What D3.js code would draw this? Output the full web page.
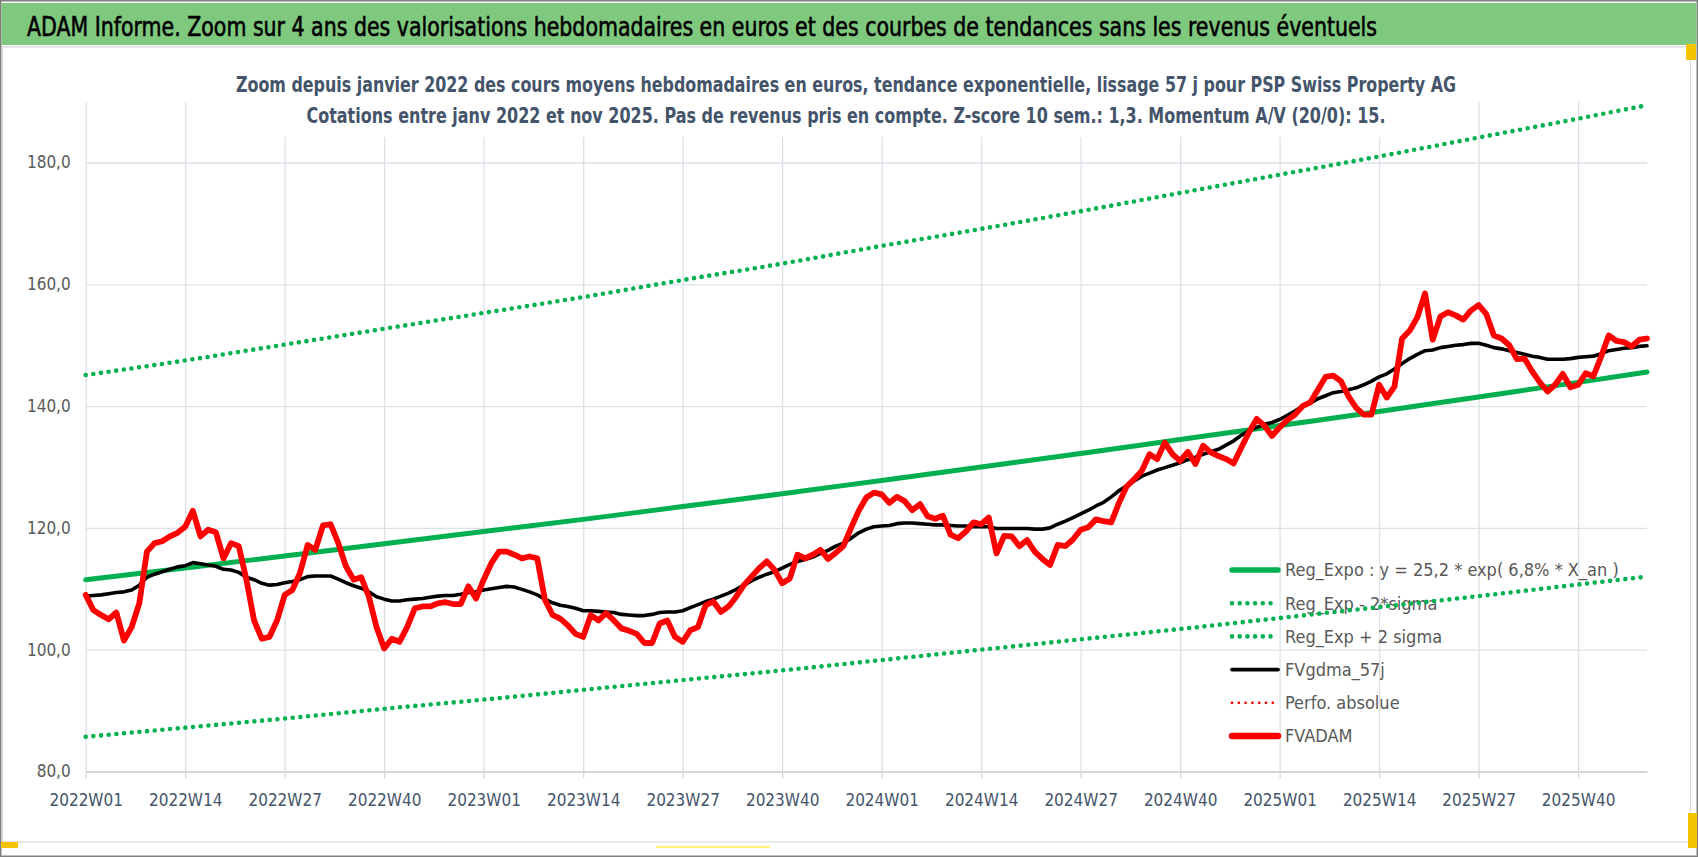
<!DOCTYPE html>
<html>
<head>
<meta charset="utf-8">
<script src="https://cdnjs.cloudflare.com/ajax/libs/d3/7.8.5/d3.min.js"></script>
<style>
body { margin: 0; background: #fff; }
svg { display: block; }
text { font-family: "Liberation Sans Narrow", "DejaVu Sans Condensed", "Roboto", sans-serif; }
</style>
</head>
<body>
<div id="container"></div>
<script>
// categories: ISO weeks, Jan 2022 -> Nov 2025
const years = [2022, 2023, 2024, 2025];
const weeksInYear = [52, 52, 52, 49];

const tickLabels = ["2022W01", "2022W14", "2022W27", "2022W40", "2023W01", "2023W14", "2023W27", "2023W40",
    "2024W01", "2024W14", "2024W27", "2024W40", "2025W01", "2025W14", "2025W27", "2025W40"];
const yTicks = [80, 100, 120, 140, 160, 180];

// FVADAM, weekly average price in euros
const fvadam = [
    109.0, 106.5, 105.7, 105.0, 106.1, 101.5, 103.7, 107.6, 116.1, 117.5, 117.8, 118.6, 119.2,
    120.2, 122.8, 118.6, 119.7, 119.3, 115.0, 117.5, 117.0, 111.5, 104.8, 101.8, 102.1, 104.8,
    109.0, 109.8, 112.6, 117.2, 116.4, 120.4, 120.6, 117.5, 113.7, 111.5, 111.9, 108.7, 103.7,
    100.2, 101.8, 101.3, 103.7, 106.8, 107.1, 107.1, 107.6, 107.8, 107.5, 107.5, 110.4, 108.4,
    111.5, 114.2, 116.1, 116.1, 115.6, 115.0, 115.3, 115.0, 108.2, 105.7, 105.1, 104.0, 102.6,
    102.1, 105.7, 104.8, 106.0, 104.8, 103.5, 103.1, 102.6, 101.1, 101.1, 104.3, 104.8, 102.1,
    101.3, 103.2, 103.7, 107.3, 107.9, 106.2, 107.1, 108.7, 110.6, 112.0, 113.4, 114.5, 113.1,
    110.9, 111.7, 115.6, 115.0, 115.6, 116.4, 114.9, 115.9, 117.0, 120.0, 122.8, 125.0, 125.8,
    125.5, 124.1, 125.1, 124.4, 122.9, 123.9, 121.9, 121.5, 122.0, 118.9, 118.3, 119.4, 120.9,
    120.6, 121.7, 115.8, 118.7, 118.6, 117.0, 118.0, 116.1, 114.9, 113.9, 117.2, 117.0, 118.1,
    119.7, 120.1, 121.4, 121.1, 120.9, 124.1, 126.8, 128.0, 129.4, 132.1, 131.3, 134.0, 132.1,
    131.0, 132.5, 130.5, 133.5, 132.4, 131.8, 131.3, 130.6, 133.2, 135.7, 137.9, 136.8, 135.1,
    136.5, 137.7, 138.6, 140.0, 140.6, 142.7, 144.8, 145.0, 144.1, 141.6, 139.7, 138.6, 138.6,
    143.5, 141.4, 143.2, 151.1, 152.4, 154.6, 158.5, 150.9, 154.7, 155.4, 154.9, 154.2, 155.7,
    156.6, 155.1, 151.6, 151.1, 150.0, 147.7, 147.8, 145.7, 143.9, 142.4, 143.5, 145.3, 143.1,
    143.5, 145.4, 144.9, 148.1, 151.6, 150.7, 150.5, 149.8, 150.9, 151.1
];

// FVgdma_57j, smoothed
const fvgdma = [
    108.8, 108.9, 109.0, 109.2, 109.4, 109.5, 109.8, 110.6, 111.9, 112.4, 112.8, 113.2, 113.6,
    113.8, 114.3, 114.1, 113.9, 113.7, 113.2, 113.1, 112.7, 111.9, 111.5, 110.9, 110.6, 110.7,
    111.0, 111.2, 111.5, 112.0, 112.1, 112.1, 112.1, 111.6, 111.0, 110.5, 110.1, 109.5, 108.7,
    108.3, 108.0, 108.0, 108.2, 108.3, 108.4, 108.6, 108.8, 108.9, 108.9, 109.1, 109.4, 109.5,
    109.8, 110.0, 110.2, 110.4, 110.3, 109.9, 109.5, 109.0, 108.3, 107.7, 107.3, 107.1, 106.8,
    106.4, 106.4, 106.3, 106.2, 106.1, 105.8, 105.7, 105.6, 105.6, 105.8, 106.1, 106.2, 106.2,
    106.4, 106.9, 107.4, 107.9, 108.3, 108.8, 109.3, 109.9, 110.6, 111.3, 111.9, 112.4, 112.8,
    113.4, 114.0, 114.5, 114.8, 115.2, 115.8, 116.3, 117.0, 117.5, 118.3, 119.2, 119.8, 120.2,
    120.3, 120.4, 120.7, 120.8, 120.8, 120.7, 120.6, 120.5, 120.5, 120.4, 120.3, 120.3, 120.2,
    120.2, 120.2, 119.9, 119.9, 119.9, 119.9, 119.9, 119.8, 119.8, 120.0, 120.6, 121.1, 121.7,
    122.3, 122.9, 123.6, 124.2, 125.1, 126.1, 126.9, 127.7, 128.5, 129.0, 129.5, 129.9, 130.3,
    130.7, 131.2, 131.6, 132.1, 132.5, 132.9, 133.6, 134.3, 135.2, 136.0, 136.5, 137.0, 137.3,
    137.8, 138.5, 139.2, 140.0, 140.5, 141.2, 141.7, 142.2, 142.4, 142.7, 143.0, 143.5, 144.1,
    144.8, 145.3, 146.1, 147.0, 147.8, 148.5, 149.1, 149.2, 149.6, 149.8, 150.0, 150.1, 150.3,
    150.3, 150.0, 149.6, 149.4, 149.1, 148.8, 148.5, 148.2, 148.0, 147.7, 147.7, 147.7, 147.8,
    148.0, 148.1, 148.2, 148.6, 149.1, 149.3, 149.5, 149.6, 149.8, 149.9
];

// exponential trend and +/- 2 sigma bands, read at quarter weeks
const trendWeeks = ["2022W01", "2022W14", "2022W27", "2022W40", "2023W01", "2023W14", "2023W27", "2023W40",
    "2024W01", "2024W14", "2024W27", "2024W40", "2025W01", "2025W14", "2025W27", "2025W40", "2025W49"];
const regExpo = [111.5, 113.4, 115.4, 117.4, 119.4, 121.4, 123.5, 125.6, 127.8,
    130.0, 132.2, 134.5, 136.8, 139.1, 141.5, 143.9, 145.6];
const regExpMinus = [85.7, 87.2, 88.7, 90.3, 91.8, 93.4, 95.0, 96.6, 98.3,
    100.0, 101.7, 103.4, 105.2, 107.0, 108.8, 110.7, 112.0];
const regExpPlus = [145.1, 147.5, 150.1, 152.7, 155.3, 157.9, 160.7, 163.4, 166.3,
    169.1, 172.0, 175.0, 178.0, 181.0, 184.1, 187.2, 189.4];

const legendLabels = ["Reg_Expo : y = 25,2 * exp( 6,8% * X_an )", "Reg_Exp - 2*sigma", "Reg_Exp + 2 sigma",
    "FVgdma_57j", "Perfo. absolue", "FVADAM"];

const title = "ADAM Informe. Zoom sur 4 ans des valorisations hebdomadaires en euros et des courbes de tendances sans les revenus éventuels";
const subtitle1 = "Zoom depuis janvier 2022 des cours moyens hebdomadaires en euros, tendance exponentielle, lissage 57 j pour PSP Swiss Property AG";
const subtitle2 = "Cotations entre janv 2022 et nov 2025. Pas de revenus pris en compte. Z-score 10 sem.: 1,3. Momentum A/V (20/0): 15.";

const weeks = [];
years.forEach((yr, k) => {
    for (let w = 1; w <= weeksInYear[k]; w++) weeks.push(yr + "W" + String(w).padStart(2, "0"));
});

const W = 1698, H = 857;
const plotLeft = 85.7, plotRight = 1647, plotTop = 101.6, plotBottom = 771.5;
const green = "#00B050", red = "#FF0000";
const grid = "#DDE1E7";
const fontStack = '"Liberation Sans Narrow", "DejaVu Sans Condensed", "Roboto", sans-serif';
const dots = "0 7.7";

const svg = d3.select("#container").append("svg")
    .attr("width", W)
    .attr("height", H);

// frame, banner, chart area
svg.append("rect").attr("x", 0.75).attr("y", 0.75).attr("width", W - 1.5).attr("height", H - 1.5)
    .attr("fill", "#fff").attr("stroke", "#808080").attr("stroke-width", 1.5);
svg.append("rect").attr("x", 1.5).attr("y", 3).attr("width", W - 3).attr("height", 42)
    .attr("fill", "#7FC97F");
svg.append("rect").attr("x", 2.5).attr("y", 47).attr("width", 1688).attr("height", 795)
    .attr("fill", "#fff").attr("stroke", "#DADADA").attr("stroke-width", 1.2);

// small yellow selection marks
svg.append("rect").attr("x", 1).attr("y", 842).attr("width", 17).attr("height", 6).attr("fill", "#F5C400");
svg.append("rect").attr("x", 1686).attr("y", 44).attr("width", 10).attr("height", 16).attr("fill", "#F5C400");
svg.append("rect").attr("x", 1688).attr("y", 813).attr("width", 9).attr("height", 35).attr("fill", "#F5C400");
svg.append("rect").attr("x", 656).attr("y", 846).attr("width", 114).attr("height", 2).attr("fill", "#FFF176");

svg.append("text")
    .attr("x", 27).attr("y", 36)
    .attr("font-size", 27)
    .attr("fill", "#000")
    .attr("stroke", "#000").attr("stroke-width", 0.6)
    .attr("textLength", 1350)
    .attr("lengthAdjust", "spacingAndGlyphs")
    .text(title);

const xScale = d3.scalePoint().domain(weeks).range([plotLeft, plotRight]);
const yScale = d3.scaleLinear().domain([80, 190]).range([plotBottom, plotTop]);

// horizontal gridlines
svg.append("g")
    .attr("class", "grid")
    .attr("transform", `translate(${plotLeft},0)`)
    .call(d3.axisLeft(yScale).tickValues(yTicks.slice(1)).tickSize(-(plotRight - plotLeft)).tickFormat(""))
    .call(g => g.select(".domain").remove())
    .call(g => g.selectAll("line").attr("stroke", grid).attr("stroke-width", 1.3));

// vertical gridlines
svg.append("g")
    .attr("class", "grid")
    .attr("transform", `translate(0,${plotBottom})`)
    .call(d3.axisBottom(xScale).tickValues(tickLabels).tickSize(-(plotBottom - plotTop)).tickFormat(""))
    .call(g => g.select(".domain").remove())
    .call(g => g.selectAll("line").attr("stroke", grid).attr("stroke-width", 1.3));

// subtitle box hides the top of the gridlines
svg.append("rect").attr("x", 230).attr("y", 58).attr("width", 1232).attr("height", 79).attr("fill", "#fff");
svg.append("text")
    .attr("x", 846).attr("y", 92)
    .attr("text-anchor", "middle")
    .attr("font-size", 21).attr("font-weight", "bold")
    .attr("fill", "#44546A")
    .attr("textLength", 1220).attr("lengthAdjust", "spacingAndGlyphs")
    .text(subtitle1);
svg.append("text")
    .attr("x", 846).attr("y", 123)
    .attr("text-anchor", "middle")
    .attr("font-size", 21).attr("font-weight", "bold")
    .attr("fill", "#44546A")
    .attr("textLength", 1079).attr("lengthAdjust", "spacingAndGlyphs")
    .text(subtitle2);

// y labels
svg.append("g")
    .attr("id", "y-axis")
    .attr("transform", `translate(${plotLeft},0)`)
    .call(d3.axisLeft(yScale).tickValues(yTicks).tickSize(0).tickPadding(15)
        .tickFormat(d => d3.format(".1f")(d).replace(".", ",")))
    .call(g => g.select(".domain").remove())
    .call(g => g.selectAll("text").attr("font-size", 17).attr("fill", "#595959").style("font-family", fontStack));

// x axis
svg.append("g")
    .attr("id", "x-axis")
    .attr("transform", `translate(0,${plotBottom})`)
    .call(d3.axisBottom(xScale).tickValues(tickLabels).tickSize(7).tickPadding(15).tickSizeOuter(0))
    .call(g => g.select(".domain").attr("stroke", "#D6D6D6").attr("stroke-width", 2.2))
    .call(g => g.selectAll("line").attr("stroke", "#D6D6D6").attr("stroke-width", 1.3))
    .call(g => g.selectAll("text").attr("font-size", 17).attr("fill", "#44546A").style("font-family", fontStack));

// legend (no fill, lines go over it)
const legendStyles = [
    { color: green, width: 5.5, dash: null },
    { color: green, width: 4.6, dash: dots },
    { color: green, width: 4.6, dash: dots },
    { color: "#000", width: 3.8, dash: null },
    { color: red, width: 2.8, dash: "0 6.8" },
    { color: red, width: 6.5, dash: null }
];
const legend = svg.append("g").attr("class", "legend");
legendLabels.forEach((lab, i) => {
    const ly = 570 + i * 33.2;
    const st = legendStyles[i];
    legend.append("line")
        .attr("x1", 1232).attr("x2", 1278).attr("y1", ly).attr("y2", ly)
        .attr("stroke", st.color).attr("stroke-width", st.width)
        .attr("stroke-linecap", "round")
        .attr("stroke-dasharray", st.dash);
    legend.append("text")
        .attr("x", 1285).attr("y", ly).attr("dy", "0.35em")
        .attr("font-size", 18).attr("fill", "#595959")
        .text(lab);
});

// series
const trendLine = d3.line()
    .x((d, i) => xScale(trendWeeks[i]))
    .y(d => yScale(d))
    .curve(d3.curveMonotoneX);
const weekLine = d3.line()
    .x((d, i) => xScale(weeks[i]))
    .y(d => yScale(d));

svg.append("path").datum(regExpo).attr("d", trendLine)
    .attr("fill", "none").attr("stroke", green).attr("stroke-width", 5).attr("stroke-linecap", "round");
[regExpMinus, regExpPlus].forEach(s => {
    svg.append("path").datum(s).attr("d", trendLine)
        .attr("fill", "none").attr("stroke", green).attr("stroke-width", 4.6)
        .attr("stroke-linecap", "round").attr("stroke-dasharray", dots);
});
svg.append("path").datum(fvgdma).attr("d", weekLine)
    .attr("fill", "none").attr("stroke", "#000").attr("stroke-width", 3.6)
    .attr("stroke-linejoin", "round").attr("stroke-linecap", "round");
svg.append("path").datum(fvadam).attr("d", weekLine)
    .attr("fill", "none").attr("stroke", red).attr("stroke-width", 5.8)
    .attr("stroke-linejoin", "round").attr("stroke-linecap", "round");
</script>
</body>
</html>
